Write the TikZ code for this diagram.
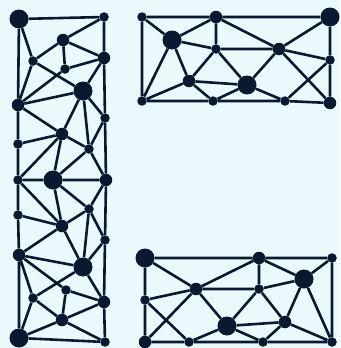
\documentclass[tikz,border=0pt]{standalone}
\definecolor{bgc}{RGB}{234,250,252}
\definecolor{ink}{RGB}{10,24,48}
\begin{document}
\begin{tikzpicture}[x=1pt,y=-1pt,
  dot/.style={circle,fill=ink,inner sep=0pt,draw=none},
  big/.style={dot,minimum size=19pt},
  mid/.style={dot,minimum size=12.5pt},
  sml/.style={dot,minimum size=9.5pt},
  edge/.style={draw=ink,line width=2.6pt}]
\fill[bgc] (0,0) rectangle (340,348);
\useasboundingbox (0,0) rectangle (340,348);
% left column
\node[big] (A) at (19,19) {};
\node[sml] (B) at (104,17) {};
\node[mid] (C) at (63,40) {};
\node[mid] (E) at (104,58) {};
\node[sml] (D) at (33,61) {};
\node[sml] (F) at (65,69) {};
\node[big] (G) at (83,91) {};
\node[mid] (H) at (18,105) {};
\node[sml] (I) at (105,118) {};
\node[mid] (J) at (62,134) {};
\node[sml] (K) at (18,144) {};
\node[sml] (L) at (89,149) {};
\node[big] (M) at (53,180) {};
\node[sml] (N) at (18,180) {};
\node[mid] (O) at (106,180) {};
\node[sml] (P) at (89,209) {};
\node[sml] (Q) at (18,215) {};
\node[mid] (R) at (62,226) {};
\node[sml] (I2) at (105,240) {};
\node[mid] (H2) at (19,255) {};
\node[big] (G2) at (83,267) {};
\node[sml] (F2) at (66,290) {};
\node[sml] (D2) at (33,298) {};
\node[mid] (E2) at (104,302) {};
\node[mid] (C2) at (62,320) {};
\node[big] (A2) at (19,338) {};
\node[sml] (B2) at (105,342) {};
\path[edge] (A)--(H) (H)--(K) (K)--(N) (N)--(Q) (Q)--(H2) (H2)--(A2)
  (A2)--(B2) (B2)--(E2) (E2)--(I2) (I2)--(O) (O)--(I) (I)--(E) (E)--(B) (B)--(A)
  (A)--(D) (B)--(C) (C)--(D) (C)--(E) (C)--(F) (D)--(H) (D)--(G) (F)--(H)
  (F)--(E) (E)--(G) (H)--(G) (G)--(I) (G)--(J) (G)--(L) (H)--(J) (I)--(L)
  (J)--(K) (J)--(L) (J)--(N) (J)--(M) (L)--(M) (L)--(O) (N)--(M) (M)--(O)
  (A2)--(D2) (A2)--(C2) (B2)--(C2) (C2)--(D2) (C2)--(F2) (C2)--(E2) (D2)--(H2)
  (D2)--(G2) (F2)--(H2) (F2)--(E2) (E2)--(G2) (H2)--(G2) (G2)--(I2) (G2)--(R)
  (G2)--(P) (H2)--(R) (I2)--(P) (R)--(Q) (R)--(P) (R)--(N) (R)--(M) (P)--(M) (P)--(O);
% top-right panel
\node[sml] (ta) at (142,17) {};
\node[mid] (tb) at (216,17) {};
\node[big] (tc) at (330,17) {};
\node[big] (td) at (172,40) {};
\node[sml] (te) at (216,49) {};
\node[mid] (tf) at (279,49) {};
\node[sml] (tg) at (330,60) {};
\node[mid] (th) at (189,81) {};
\node[big] (ti) at (247,85) {};
\node[sml] (tj) at (142,101) {};
\node[sml] (tk) at (213,101) {};
\node[sml] (tl) at (285,101) {};
\node[mid] (tm) at (330,103) {};
\path[edge] (ta)--(tb) (tb)--(tc) (tc)--(tg) (tg)--(tm) (tm)--(tl) (tl)--(tk)
  (tk)--(tj) (tj)--(ta) (ta)--(td) (td)--(tb) (tb)--(te) (tb)--(tf) (td)--(te)
  (te)--(tf) (tf)--(tc) (tf)--(tg) (td)--(th) (td)--(tj) (te)--(th) (te)--(ti)
  (th)--(ti) (th)--(tj) (th)--(tk) (tk)--(ti) (ti)--(tf) (ti)--(tl) (tf)--(tm) (tg)--(tl);
% bottom-right panel
\node[big] (bp) at (145,258) {};
\node[mid] (bq) at (259,258) {};
\node[sml] (br) at (332,258) {};
\node[big] (bs) at (304,279) {};
\node[mid] (bt) at (196,289) {};
\node[sml] (bu) at (259,289) {};
\node[sml] (bv) at (145,300) {};
\node[big] (bw) at (227,326) {};
\node[mid] (bx) at (285,322) {};
\node[mid] (by) at (145,342) {};
\node[sml] (bz) at (189,342) {};
\node[sml] (baa) at (263,342) {};
\node[sml] (bbb) at (332,342) {};
\path[edge] (bp)--(bq) (bq)--(br) (br)--(bbb) (bbb)--(baa) (baa)--(bz) (bz)--(by)
  (by)--(bv) (bv)--(bp) (bp)--(bt) (bt)--(bq) (bq)--(bu) (bq)--(bs) (br)--(bs)
  (bs)--(bu) (bt)--(bu) (bt)--(bv) (bv)--(bz) (bt)--(by) (bt)--(bw) (bu)--(bw)
  (bu)--(bx) (bw)--(bx) (bw)--(bz) (bw)--(baa) (bx)--(baa) (bx)--(bs) (bx)--(bbb) (bs)--(bbb);
\end{tikzpicture}
\end{document}
